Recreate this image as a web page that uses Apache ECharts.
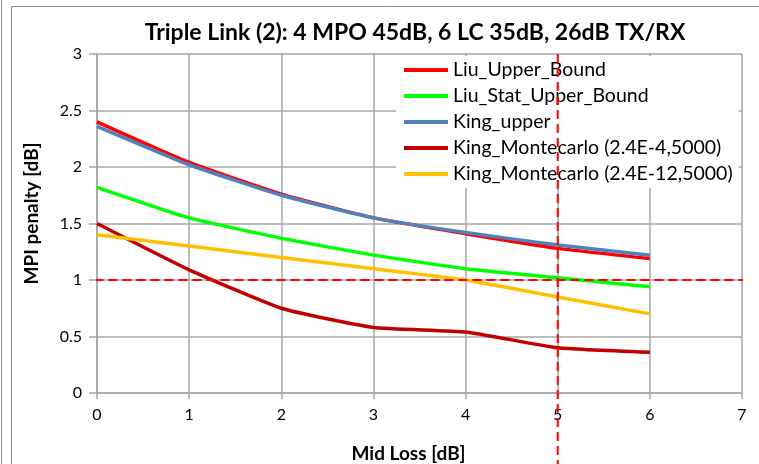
<!DOCTYPE html>
<html>
<head>
<meta charset="utf-8">
<script src="https://cdn.jsdelivr.net/npm/echarts@6/dist/echarts.min.js"></script>
<style>
  html, body { margin: 0; padding: 0; background: #fff; }
  #chart { width: 759px; height: 464px; }
</style>
</head>
<body>
<div id="chart"></div>
<script>
// Mid loss steps (dB) on the x axis
const midLoss = [0, 1, 2, 3, 4, 5, 6];

// MPI penalty (dB) for each model
const liuUpperBound = [2.40, 2.04, 1.76, 1.55, 1.41, 1.28, 1.19];
const liuStatUpperBound = [1.82, 1.55, 1.37, 1.22, 1.10, 1.02, 0.94];
const kingUpper = [2.36, 2.02, 1.75, 1.55, 1.42, 1.31, 1.22];
const kingMonte4 = [1.50, 1.09, 0.75, 0.58, 0.54, 0.40, 0.36];
const kingMonte12 = [1.40, 1.30, 1.20, 1.10, 1.00, 0.85, 0.70];

const seriesNames = [
  'Liu_Upper_Bound',
  'Liu_Stat_Upper_Bound',
  'King_upper',
  'King_Montecarlo (2.4E-4,5000)',
  'King_Montecarlo (2.4E-12,5000)'
];
const seriesColors = ['#FF0000', '#00FF00', '#4F81BD', '#C00000', '#FFC000'];
const seriesValues = [liuUpperBound, liuStatUpperBound, kingUpper, kingMonte4, kingMonte12];

// Limit markers: 1 dB penalty budget and 5 dB mid loss
const penaltyLimit = 1;
const lossLimit = 5;
const hLimitSpan = [-0.18, 7.05];
const vLimitSpan = [3, -0.65];

const FONT = 'Lato';
const gridColor = '#A6A6A6';

const chart = echarts.init(document.getElementById('chart'), null, { renderer: 'canvas' });

const dataSeries = seriesNames.map((name, i) => ({
  name: name,
  type: 'line',
  data: midLoss.map((x, j) => [x, seriesValues[i][j]]),
  showSymbol: false,
  symbol: 'none',
  smooth: 0.15,
  lineStyle: { color: seriesColors[i], width: 3.5 },
  itemStyle: { color: seriesColors[i] },
  z: 3 + i,
  silent: true
}));

const limitStyle = { color: '#FF0000', width: 2, type: [9, 5] };

const option = {
  animation: false,
  backgroundColor: '#fff',
  title: {
    text: 'Triple Link (2): 4 MPO 45dB, 6 LC 35dB, 26dB TX/RX',
    left: 410,
    textAlign: 'center',
    top: 16,
    textStyle: { fontFamily: FONT, fontWeight: 'bold', fontSize: 23, color: '#000' }
  },
  legend: {
    data: seriesNames,
    orient: 'vertical',
    left: 396,
    top: 56,
    padding: [4, 6, 4, 8],
    backgroundColor: '#fff',
    icon: 'rect',
    itemWidth: 44,
    itemHeight: 4,
    itemGap: 6,
    textStyle: { fontFamily: FONT, fontSize: 19.5, color: '#000', lineHeight: 18 },
    z: 4
  },
  grid: { left: 97, right: 17, top: 54, bottom: 71, containLabel: false, outerBoundsMode: 'none' },
  xAxis: {
    type: 'value',
    min: 0, max: 7, interval: 1,
    name: 'Mid Loss [dB]',
    nameLocation: 'middle',
    nameGap: 51,
    nameTextStyle: { fontFamily: FONT, fontWeight: 'bold', fontSize: 19, color: '#000', padding: [0, 22, 0, 0] },
    axisLine: { show: true, lineStyle: { color: gridColor, width: 1.5 } },
    axisTick: { show: true, inside: false, length: 6, lineStyle: { color: gridColor, width: 1.5 } },
    axisLabel: { fontFamily: FONT, fontSize: 16, color: '#000', margin: 14 },
    splitLine: { show: true, lineStyle: { color: gridColor, width: 1.5 } }
  },
  yAxis: {
    type: 'value',
    min: 0, max: 3, interval: 0.5,
    name: 'MPI penalty [dB]',
    nameLocation: 'middle',
    nameGap: 56,
    nameRotate: 90,
    nameTextStyle: { fontFamily: FONT, fontWeight: 'bold', fontSize: 19, color: '#000', padding: [0, 0, 0, 20] },
    axisLine: { show: true, lineStyle: { color: gridColor, width: 1.5 } },
    axisTick: { show: true, inside: false, length: 8, lineStyle: { color: gridColor, width: 1.5 } },
    axisLabel: { fontFamily: FONT, fontSize: 16, color: '#000', margin: 15 },
    splitLine: { show: true, lineStyle: { color: gridColor, width: 1.5 } }
  },
  graphic: [
    { type: 'line', shape: { x1: 1.5, y1: 0, x2: 1.5, y2: 464 }, style: { stroke: '#8C8C8C', lineWidth: 1 }, silent: true },
    { type: 'rect', shape: { x: 11.5, y: 6.5, width: 760, height: 470 }, style: { fill: 'none', stroke: '#8C8C8C', lineWidth: 1 }, silent: true }
  ],
  series: dataSeries.concat([
    {
      name: 'penalty-limit',
      type: 'line',
      data: [[hLimitSpan[0], penaltyLimit], [hLimitSpan[1], penaltyLimit]],
      clip: false,
      showSymbol: false,
      symbol: 'none',
      lineStyle: limitStyle,
      z: 20,
      silent: true
    },
    {
      name: 'loss-limit',
      type: 'line',
      data: [[lossLimit, vLimitSpan[0]], [lossLimit, vLimitSpan[1]]],
      clip: false,
      showSymbol: false,
      symbol: 'none',
      lineStyle: limitStyle,
      z: 20,
      silent: true
    }
  ])
};

chart.setOption(option);
</script>
</body>
</html>
